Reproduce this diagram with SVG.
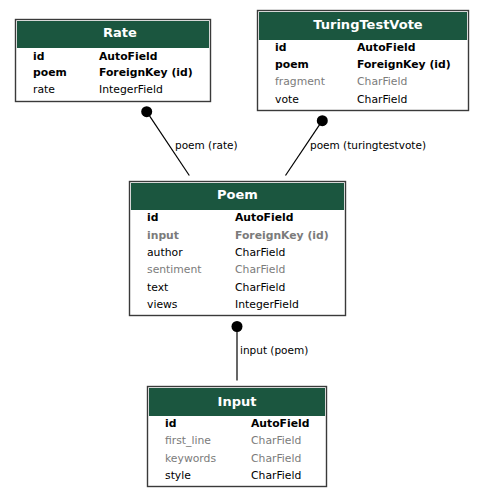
<svg xmlns="http://www.w3.org/2000/svg" width="485" height="497" viewBox="0 0 485 497">
<style>
text{font-family:"DejaVu Sans","Liberation Sans",sans-serif;font-size:10.8px;fill:#000}
.b{font-weight:bold}
.g{fill:#7b7b7b}
.h{font-weight:bold;font-size:13px;fill:#fff;text-anchor:middle}
.box{fill:#fff;stroke:#3a3a3a;stroke-width:1.4}
.hd{fill:#1b563f}
.lbl{font-size:10.5px}
.e{stroke:#000;stroke-width:1.2;fill:none}
</style>
<rect width="485" height="497" fill="#fff"/>
<g id="connectors">
<line class="e" x1="146.7" y1="111.7" x2="189.3" y2="175.5"/>
<circle cx="146.7" cy="111.7" r="5.5"/>
<text class="lbl" x="175" y="149">poem (rate)</text>
<line class="e" x1="322.3" y1="120.7" x2="285.5" y2="175.5"/>
<circle cx="322.3" cy="120.7" r="5.5"/>
<text class="lbl" x="310" y="149">poem (turingtestvote)</text>
<line class="e" x1="237" y1="326.5" x2="237" y2="380.5"/>
<circle cx="237" cy="326.5" r="5.5"/>
<text class="lbl" x="240" y="354">input (poem)</text>
</g>
<g id="Rate">
<rect class="box" x="15.5" y="19.5" width="195" height="82"/>
<rect class="hd" x="17" y="21" width="192" height="27"/>
<text class="h" x="120" y="37">Rate</text>
<text class="b" x="33" y="59.5">id</text><text class="b" x="99" y="59.5">AutoField</text>
<text class="b" x="33" y="76">poem</text><text class="b" x="99" y="76">ForeignKey (id)</text>
<text x="33" y="93">rate</text><text x="99" y="93">IntegerField</text>
</g>
<g id="TuringTestVote">
<rect class="box" x="257.5" y="10.5" width="211" height="100"/>
<rect class="hd" x="259" y="12" width="208" height="28"/>
<text class="h" x="368" y="29">TuringTestVote</text>
<text class="b" x="275" y="51">id</text><text class="b" x="357" y="51">AutoField</text>
<text class="b" x="275" y="68">poem</text><text class="b" x="357" y="68">ForeignKey (id)</text>
<text class="g" x="275" y="85">fragment</text><text class="g" x="357" y="85">CharField</text>
<text x="275" y="103">vote</text><text x="357" y="103">CharField</text>
</g>
<g id="Poem">
<rect class="box" x="129.5" y="181.5" width="216" height="134"/>
<rect class="hd" x="131" y="183" width="213" height="27"/>
<text class="h" x="237.5" y="199">Poem</text>
<text class="b" x="147" y="221">id</text><text class="b" x="235" y="221">AutoField</text>
<text class="b g" x="147" y="239">input</text><text class="b g" x="235" y="239">ForeignKey (id)</text>
<text x="147" y="256">author</text><text x="235" y="256">CharField</text>
<text class="g" x="147" y="273">sentiment</text><text class="g" x="235" y="273">CharField</text>
<text x="147" y="291">text</text><text x="235" y="291">CharField</text>
<text x="147" y="308">views</text><text x="235" y="308">IntegerField</text>
</g>
<g id="Input">
<rect class="box" x="147.5" y="386.5" width="179" height="100"/>
<rect class="hd" x="149" y="388" width="176" height="28"/>
<text class="h" x="237" y="406">Input</text>
<text class="b" x="165" y="427">id</text><text class="b" x="251" y="427">AutoField</text>
<text class="g" x="165" y="444">first_line</text><text class="g" x="251" y="444">CharField</text>
<text class="g" x="165" y="462">keywords</text><text class="g" x="251" y="462">CharField</text>
<text x="165" y="479">style</text><text x="251" y="479">CharField</text>
</g>
</svg>
